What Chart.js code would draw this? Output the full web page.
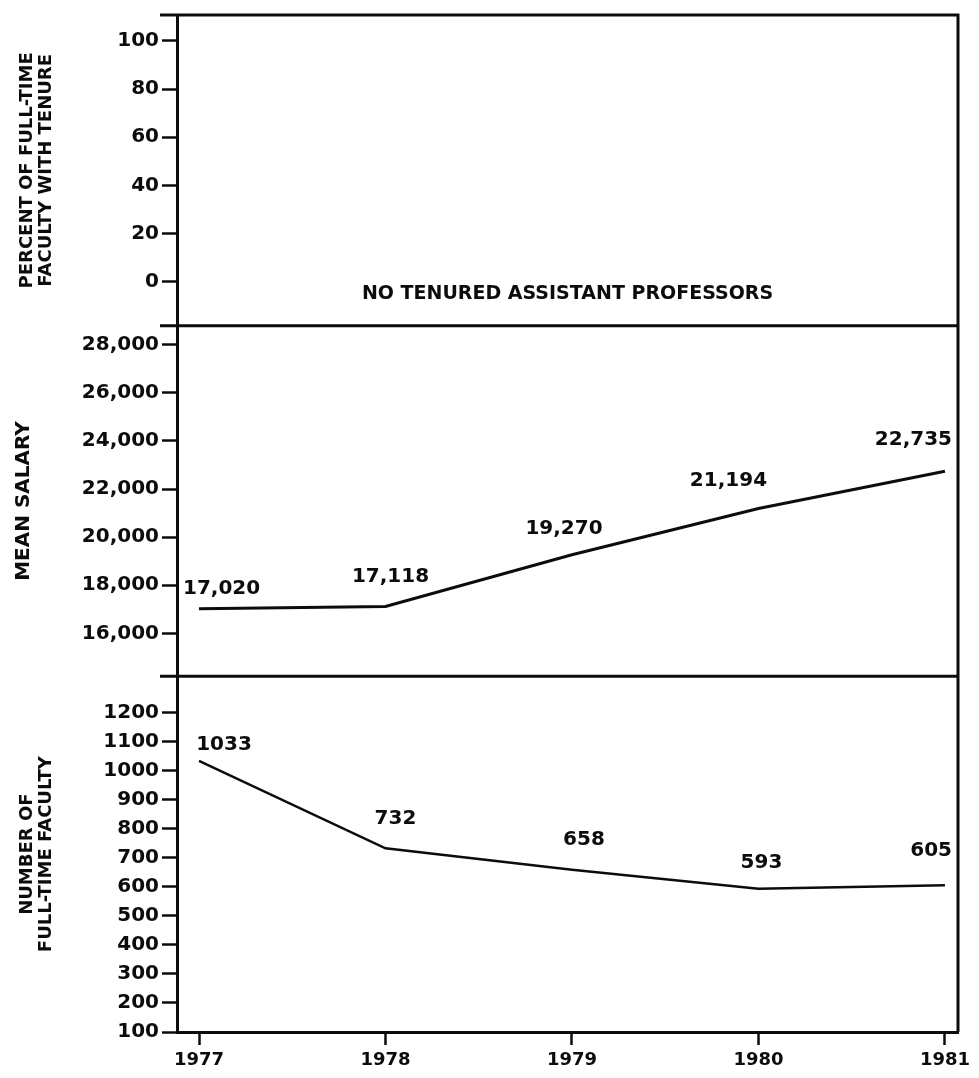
<!DOCTYPE html>
<html>
<head>
<meta charset="utf-8">
<script src="https://cdn.jsdelivr.net/npm/chart.js@4.4.0/dist/chart.umd.min.js"></script>
<style>
  html, body { margin: 0; padding: 0; background: #fff; }
  #wrap { width: 979px; height: 1078px; }
</style>
</head>
<body>
<div id="wrap"><canvas id="chart" width="979" height="1078"></canvas></div>
<script>
'use strict';

const years = [1977, 1978, 1979, 1980, 1981];
const meanSalary = [17020, 17118, 19270, 21194, 22735];
const fullTimeFaculty = [1033, 732, 658, 593, 605];

const percentTicks = [0, 20, 40, 60, 80, 100];
const salaryTicks = [16000, 18000, 20000, 22000, 24000, 26000, 28000];
const facultyTicks = [100, 200, 300, 400, 500, 600, 700, 800, 900, 1000, 1100, 1200];

const percentTitle = ['PERCENT OF FULL-TIME', 'FACULTY WITH TENURE'];
const salaryTitle = 'MEAN SALARY';
const facultyTitle = ['NUMBER OF', 'FULL-TIME FACULTY'];
const noTenureNote = 'NO TENURED ASSISTANT PROFESSORS';

const FONT = "'DejaVu Sans', sans-serif";
const INK = '#0c0c0c';

const withComma = (v) => v.toLocaleString('en-US');
const plain = (v) => String(v);

// each y axis gets the same width so the left border lines up
const fixWidth = (scale) => { scale.width = 177; };
const setTicks = (list) => (scale) => { scale.ticks = list.map((v) => ({ value: v })); };

const yAxis = (ticks, fmt, title, titleSize, titlePad, weight, stackWeight, min, max) => ({
  type: 'linear',
  position: 'left',
  stack: 'panels',
  stackWeight,
  weight,
  min,
  max,
  afterBuildTicks: setTicks(ticks),
  afterFit: fixWidth,
  border: { display: true, color: INK, width: 3 },
  grid: { drawOnChartArea: false, drawTicks: true, tickLength: 15, tickColor: INK, tickWidth: 2.5 },
  ticks: {
    color: INK,
    autoSkip: false,
    font: { family: FONT, size: 20, weight: 'bold' },
    padding: 3,
    callback: (v) => fmt(v),
  },
  title: {
    display: true,
    text: title,
    color: INK,
    font: { family: FONT, size: titleSize, weight: 'bold', lineHeight: 1.06 },
    padding: { top: titlePad, bottom: 0 },
  },
});

// frame lines and the note in the empty top panel
const framePlugin = {
  id: 'frame',
  afterDraw(chart) {
    const { ctx, chartArea: a, scales } = chart;
    ctx.save();
    ctx.strokeStyle = INK;
    ctx.lineWidth = 3;
    ctx.beginPath();
    ctx.moveTo(a.left - 17, a.top);
    ctx.lineTo(a.right, a.top);
    ctx.lineTo(a.right, a.bottom);
    [scales.yPct.bottom, scales.ySalary.bottom].forEach((y) => {
      ctx.moveTo(a.left - 17, y);
      ctx.lineTo(a.right, y);
    });
    ctx.stroke();

    ctx.fillStyle = INK;
    ctx.font = `bold 19px ${FONT}`;
    ctx.textAlign = 'center';
    ctx.textBaseline = 'middle';
    ctx.fillText(noTenureNote, (a.left + a.right) / 2, scales.yPct.getPixelForValue(-5));
    ctx.restore();
  },
};

// value labels above each point
const valueLabels = {
  id: 'valueLabels',
  afterDatasetsDraw(chart) {
    const { ctx, chartArea: a } = chart;
    ctx.save();
    ctx.fillStyle = INK;
    ctx.font = `bold 20px ${FONT}`;
    ctx.textBaseline = 'middle';
    ctx.textAlign = 'center';
    chart.data.datasets.forEach((ds, i) => {
      const meta = chart.getDatasetMeta(i);
      meta.data.forEach((pt, j) => {
        const text = ds.format(ds.data[j].y);
        const w = ctx.measureText(text).width;
        let x = pt.x + ds.labelDx[j];
        x = Math.max(a.left + 6 + w / 2, Math.min(a.right - 6 - w / 2, x));
        ctx.fillText(text, x, pt.y + ds.labelDy[j]);
      });
    });
    ctx.restore();
  },
};

const toPoints = (values) => values.map((v, i) => ({ x: years[i], y: v }));

new Chart(document.querySelector('#chart'), {
  type: 'line',
  data: {
    datasets: [
      {
        label: salaryTitle,
        data: toPoints(meanSalary),
        yAxisID: 'ySalary',
        borderColor: INK,
        borderWidth: 3,
        pointRadius: 0,
        tension: 0,
        format: withComma,
        labelDx: [0, 5, -8, -30, 0],
        labelDy: [-20, -30, -26, -28, -32],
      },
      {
        label: 'NUMBER OF FULL-TIME FACULTY',
        data: toPoints(fullTimeFaculty),
        yAxisID: 'yFaculty',
        borderColor: INK,
        borderWidth: 2.5,
        pointRadius: 0,
        tension: 0,
        format: plain,
        labelDx: [25, 10, 12, 3, 0],
        labelDy: [-16, -30, -30, -26, -34],
      },
    ],
  },
  plugins: [framePlugin, valueLabels],
  options: {
    responsive: false,
    devicePixelRatio: 1,
    animation: false,
    layout: { padding: { left: 0, right: 21, top: 14, bottom: 0 } },
    plugins: {
      legend: { display: false },
      tooltip: { enabled: false },
    },
    scales: {
      x: {
        type: 'linear',
        position: 'bottom',
        min: 1976.882,
        max: 1981.07,
        afterBuildTicks: setTicks(years),
        afterFit: (scale) => { scale.height = 46; },
        border: { display: true, color: INK, width: 3 },
        grid: { drawOnChartArea: false, drawTicks: true, tickLength: 13, tickColor: INK, tickWidth: 2.5 },
        ticks: {
          color: INK,
          autoSkip: false,
          font: { family: FONT, size: 18, weight: 'bold' },
          padding: 5,
          maxRotation: 0,
          callback: plain,
        },
      },
      yFaculty: yAxis(facultyTicks, plain, facultyTitle, 18, 18, 1, 356, 100, 1323.8),
      ySalary: yAxis(salaryTicks, withComma, salaryTitle, 20, 13, 2, 351, 14214, 28789),
      yPct: yAxis(percentTicks, plain, percentTitle, 18, 18, 3, 311, -18.26, 110.79),
    },
  },
});
</script>
</body>
</html>
